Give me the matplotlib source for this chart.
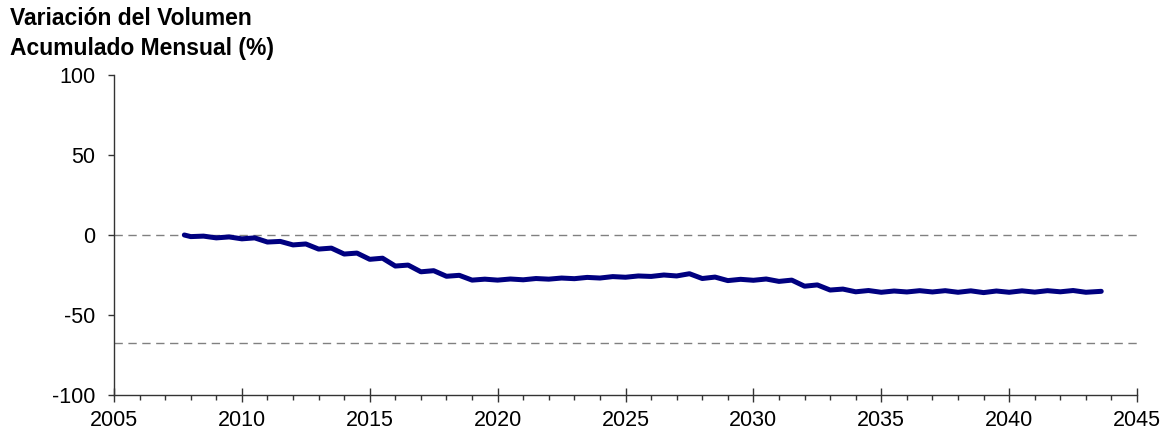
import matplotlib
matplotlib.use("Agg")
import matplotlib.pyplot as plt
from matplotlib.ticker import MultipleLocator

plt.rcParams['font.family'] = ['Liberation Sans', 'DejaVu Sans']
plt.rcParams['axes.unicode_minus'] = False

# Accumulated monthly volume variation (%), sampled every half year
years = [
    2007.75, 2008.0, 2008.5, 2009.0, 2009.5, 2010.0, 2010.5, 2011.0, 2011.5,
    2012.0, 2012.5, 2013.0, 2013.5, 2014.0, 2014.5, 2015.0, 2015.5, 2016.0,
    2016.5, 2017.0, 2017.5, 2018.0, 2018.5, 2019.0, 2019.5, 2020.0, 2020.5,
    2021.0, 2021.5, 2022.0, 2022.5, 2023.0, 2023.5, 2024.0, 2024.5, 2025.0,
    2025.5, 2026.0, 2026.5, 2027.0, 2027.5, 2028.0, 2028.5, 2029.0, 2029.5,
    2030.0, 2030.5, 2031.0, 2031.5, 2032.0, 2032.5, 2033.0, 2033.5, 2034.0,
    2034.5, 2035.0, 2035.5, 2036.0, 2036.5, 2037.0, 2037.5, 2038.0, 2038.5,
    2039.0, 2039.5, 2040.0, 2040.5, 2041.0, 2041.5, 2042.0, 2042.5, 2043.0,
    2043.6,
]
variation = [
    0.0, -1.0, -0.7, -1.8, -1.2, -2.4, -1.8, -4.4, -4.0,
    -6.2, -5.6, -8.8, -8.2, -11.9, -11.3, -15.2, -14.5, -19.4,
    -18.8, -23.0, -22.3, -25.8, -25.2, -28.2, -27.6, -28.2, -27.5,
    -28.0, -27.2, -27.6, -26.9, -27.3, -26.5, -26.9, -26.0, -26.4,
    -25.6, -25.9, -25.0, -25.6, -24.2, -27.2, -26.3, -28.5, -27.7,
    -28.3, -27.5, -29.0, -28.2, -32.0, -31.2, -34.4, -33.8, -35.5,
    -34.7, -35.8, -35.0, -35.6, -34.8, -35.6, -34.8, -35.8, -34.9,
    -36.0, -35.0, -35.8, -34.9, -35.7, -34.8, -35.5, -34.7, -35.8,
    -35.2,
]
reference_levels = [0, -67.5]

x_ticks = [2005, 2010, 2015, 2020, 2025, 2030, 2035, 2040, 2045]
y_ticks = [-100, -50, 0, 50, 100]

fig = plt.figure(figsize=(11.68, 4.40), dpi=100)
ax = fig.add_axes([0.0976, 0.1023, 0.8759, 0.7272])

for lvl in reference_levels:
    ax.axhline(lvl, color='#808080', lw=1.0, ls=(0, (6, 4)), zorder=1)

ax.plot(years, variation, color='#000080', lw=3.6, solid_joinstyle='round',
        solid_capstyle='round', zorder=3)

ax.set_xlim(2005, 2045)
ax.set_ylim(-100, 100)
ax.set_xticks(x_ticks)
ax.set_yticks(y_ticks)
ax.xaxis.set_minor_locator(MultipleLocator(1))

for side in ('top', 'right'):
    ax.spines[side].set_visible(False)
for side in ('left', 'bottom'):
    ax.spines[side].set_color('#333333')
    ax.spines[side].set_linewidth(1.0)

ax.tick_params(axis='x', which='major', direction='inout', length=10,
               width=1.0, color='#333333', labelsize=15.5, pad=6)
ax.tick_params(axis='x', which='minor', direction='out', length=3.6,
               width=1.0, color='#333333')
ax.tick_params(axis='y', which='major', direction='out', length=4.3,
               width=1.0, color='#333333', labelsize=15.5, pad=9)

fig.text(10 / 1168, 1 - 7 / 440, 'Variación del Volumen', fontsize=16.5,
         fontweight='bold', ha='left', va='top')
fig.text(10 / 1168, 1 - 37 / 440, 'Acumulado Mensual (%)', fontsize=16.5,
         fontweight='bold', ha='left', va='top')

fig.savefig('out.png', dpi=100)
